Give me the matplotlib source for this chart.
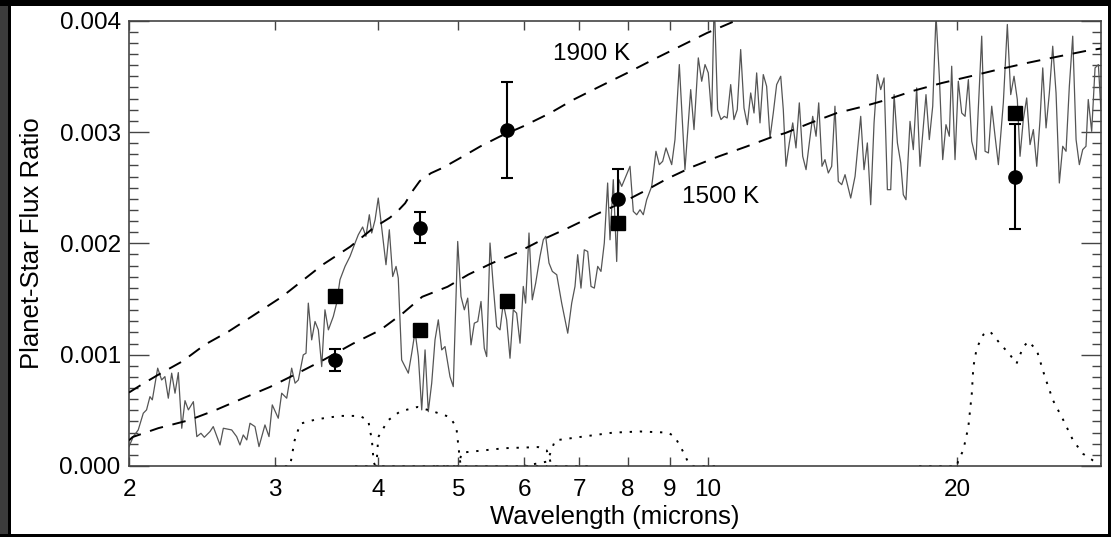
import numpy as np
import matplotlib.pyplot as plt
from matplotlib.patches import Rectangle
from matplotlib.ticker import FixedLocator, FixedFormatter, MultipleLocator, NullLocator

plt.rcParams['font.family'] = ['Liberation Sans', 'DejaVu Sans']

# --- model spectrum (planet/star flux ratio) ---
spec_wl = [2.000, 2.024, 2.052, 2.081, 2.100, 2.120, 2.134, 2.166, 2.190, 2.210,
           2.231, 2.252, 2.273, 2.294, 2.316, 2.337, 2.359, 2.392, 2.415, 2.443,
           2.466, 2.505, 2.528, 2.576, 2.600, 2.661, 2.698, 2.723, 2.748, 2.775,
           2.800, 2.839, 2.871, 2.919, 2.952, 2.979, 3.029, 3.058, 3.101, 3.144,
           3.174, 3.203, 3.247, 3.272, 3.293, 3.324, 3.355, 3.386, 3.418, 3.449,
           3.482, 3.530, 3.563, 3.596, 3.647, 3.698, 3.750, 3.784, 3.830, 3.865,
           3.902, 3.928, 3.965, 4.000, 4.050, 4.087, 4.125, 4.164, 4.203, 4.229,
           4.269, 4.309, 4.349, 4.390, 4.431, 4.472, 4.514, 4.556, 4.597, 4.641,
           4.684, 4.727, 4.772, 4.816, 4.883, 4.928, 4.989, 5.035, 5.082, 5.130,
           5.177, 5.225, 5.275, 5.323, 5.372, 5.408, 5.458, 5.508, 5.560, 5.612,
           5.663, 5.716, 5.770, 5.823, 5.877, 5.933, 5.987, 6.026, 6.083, 6.139,
           6.197, 6.272, 6.330, 6.372, 6.431, 6.491, 6.571, 6.662, 6.775, 6.850,
           6.913, 6.965, 7.029, 7.094, 7.162, 7.228, 7.295, 7.364, 7.431, 7.500,
           7.570, 7.620, 7.690, 7.763, 7.813, 7.872, 8.056, 8.130, 8.207, 8.283,
           8.359, 8.438, 8.557, 8.659, 8.740, 8.822, 8.904, 9.046, 9.129, 9.240,
           9.386, 9.537, 9.625, 9.741, 9.833, 9.925, 10.015, 10.110, 10.182, 10.278,
           10.375, 10.470, 10.555, 10.659, 10.756, 10.855, 10.959, 11.061, 11.164, 11.269,
           11.373, 11.457, 11.564, 11.670, 11.779, 11.890, 11.999, 12.112, 12.250, 12.338,
           12.430, 12.547, 12.666, 12.781, 12.900, 13.022, 13.144, 13.264, 13.389, 13.515,
           13.615, 13.740, 13.854, 13.983, 14.115, 14.244, 14.377, 14.514, 14.649, 14.882,
           15.063, 15.302, 15.443, 15.587, 15.733, 15.880, 16.027, 16.177, 16.328, 16.480,
           16.633, 16.791, 16.946, 17.103, 17.226, 17.355, 17.551, 17.712, 17.879, 18.045,
           18.348, 18.518, 18.694, 18.866, 19.041, 19.221, 19.396, 19.577, 19.707, 19.890,
           20.073, 20.264, 20.454, 20.642, 20.835, 21.086, 21.219, 21.423, 21.623, 21.826,
           22.028, 22.233, 22.438, 22.750, 23.005, 23.223, 23.437, 23.652, 23.832, 24.050,
           24.277, 24.504, 24.731, 24.966, 25.195, 25.386, 25.620, 25.856, 26.100, 26.342,
           26.584, 26.836, 27.085, 27.334, 27.593, 27.851, 28.105, 28.370, 28.629, 28.811,
           29.086, 29.360, 29.634, 29.840]
spec_flux = [0.000174, 0.000264, 0.000324, 0.000474, 0.000504, 0.000623, 0.000594, 0.000879, 0.000773, 0.000803,
             0.000609, 0.000834, 0.000654, 0.000839, 0.000339, 0.000587, 0.000504, 0.000578, 0.000264, 0.000294,
             0.000258, 0.000309, 0.000354, 0.000189, 0.000339, 0.000324, 0.000264, 0.000189, 0.000279, 0.000234,
             0.000384, 0.000354, 0.000174, 0.000369, 0.000264, 0.000549, 0.000429, 0.000654, 0.000609, 0.000879,
             0.000744, 0.000773, 0.000998, 0.001013, 0.001463, 0.001133, 0.001298, 0.001223, 0.000893, 0.001403,
             0.001223, 0.001343, 0.001463, 0.001673, 0.001793, 0.001883, 0.002003, 0.002077, 0.002147, 0.002063,
             0.002257, 0.002093, 0.002212, 0.002407, 0.002063, 0.001808, 0.002122, 0.001702, 0.001793, 0.001688,
             0.000953, 0.000893, 0.000834, 0.001013, 0.001208, 0.000983, 0.000504, 0.001043, 0.000488, 0.000744,
             0.001133, 0.001313, 0.001043, 0.001073, 0.000803, 0.000713, 0.002017, 0.001523, 0.001403, 0.001508,
             0.001088, 0.001283, 0.001298, 0.001478, 0.001058, 0.000983, 0.002003, 0.001613, 0.001253, 0.001223,
             0.001463, 0.001313, 0.000968, 0.001403, 0.001373, 0.001103, 0.001613, 0.001463, 0.002093, 0.001493,
             0.001643, 0.001883, 0.002032, 0.002063, 0.001823, 0.001748, 0.001718, 0.001463, 0.001193, 0.001463,
             0.001613, 0.001898, 0.001598, 0.001942, 0.001927, 0.001613, 0.001598, 0.001793, 0.001748, 0.002003,
             0.002542, 0.002032, 0.002572, 0.001837, 0.002572, 0.002512, 0.002692, 0.002287, 0.002257, 0.002302,
             0.002257, 0.002392, 0.002512, 0.002827, 0.002707, 0.002737, 0.002857, 0.002707, 0.002932, 0.003606,
             0.002662, 0.003381, 0.003022, 0.003666, 0.003456, 0.003606, 0.003531, 0.003141, 0.004200, 0.003201,
             0.003112, 0.003141, 0.003126, 0.003426, 0.003112, 0.003201, 0.003741, 0.003216, 0.003066, 0.003351,
             0.003171, 0.003531, 0.003082, 0.003516, 0.003411, 0.002947, 0.003171, 0.003426, 0.003501, 0.003201,
             0.002692, 0.002902, 0.003082, 0.002857, 0.003262, 0.002782, 0.002662, 0.002902, 0.003141, 0.002962,
             0.003262, 0.002692, 0.002752, 0.002632, 0.002692, 0.003232, 0.002557, 0.002527, 0.002617, 0.002407,
             0.002602, 0.003141, 0.002662, 0.002902, 0.002347, 0.003082, 0.003516, 0.003381, 0.003486, 0.002482,
             0.002482, 0.003336, 0.002902, 0.002722, 0.002437, 0.002392, 0.003096, 0.002842, 0.003396, 0.002692,
             0.003336, 0.002932, 0.003232, 0.004050, 0.003501, 0.002752, 0.003066, 0.002962, 0.003591, 0.002752,
             0.003456, 0.003171, 0.003141, 0.003471, 0.002917, 0.002752, 0.003201, 0.003861, 0.002827, 0.002812,
             0.003232, 0.002962, 0.002707, 0.003262, 0.003966, 0.003336, 0.003501, 0.003292, 0.002782, 0.003112,
             0.003306, 0.002887, 0.003022, 0.002692, 0.003112, 0.003576, 0.003037, 0.003351, 0.003771, 0.003351,
             0.002542, 0.002872, 0.002827, 0.003411, 0.003861, 0.002932, 0.002707, 0.002842, 0.002872, 0.003292,
             0.003006, 0.003576, 0.003606, 0.003201]

# --- blackbody curves ---
bb1900_wl = [2.00, 2.07, 2.17, 2.32, 2.47, 2.64, 2.81, 3.06, 3.17, 3.43, 3.70, 3.95,
             4.13, 4.21, 4.31, 4.40, 4.49, 4.63, 4.79, 5.06, 5.31, 5.61, 5.98, 6.45,
             6.88, 7.41, 7.99, 8.59, 9.26, 9.98, 10.73, 11.60]
bb1900 = [0.00066, 0.00073, 0.00082, 0.00094, 0.00109, 0.00121, 0.00134, 0.00152, 0.00161, 0.00181, 0.00197, 0.00214,
          0.00223, 0.00228, 0.00236, 0.00247, 0.00256, 0.00263, 0.00268, 0.00278, 0.00287, 0.00296, 0.00305, 0.00317,
          0.00329, 0.00341, 0.00353, 0.00365, 0.00377, 0.00389, 0.00399, 0.00410]
bb1500_wl = [2.00, 2.02, 2.17, 2.36, 2.54, 2.75, 2.96, 3.19, 3.43, 3.73, 4.02, 4.28,
             4.52, 4.85, 5.14, 5.48, 5.86, 6.30, 6.79, 7.33, 7.90, 8.44, 8.93, 9.60,
             10.30, 11.14, 12.0, 12.40, 13.29, 14.31, 15.42, 16.45, 17.71, 19.17,
             20.74, 22.39, 24.29, 26.17, 28.69, 29.85]
bb1500 = [0.00023, 0.00026, 0.00034, 0.00041, 0.00050, 0.00061, 0.00071, 0.00083, 0.00095, 0.00110, 0.00122, 0.00137,
          0.00152, 0.00161, 0.00172, 0.00182, 0.00191, 0.00203, 0.00214, 0.00226, 0.00237, 0.00248, 0.00258, 0.00269,
          0.00278, 0.00287, 0.00296, 0.00299, 0.00308, 0.00317, 0.00323, 0.00329, 0.00337, 0.00344,
          0.00350, 0.00356, 0.00362, 0.00367, 0.00373, 0.00375]

# --- filter response curves (scaled) ---
ch1_wl = [3.00, 3.13, 3.17, 3.22, 3.37, 3.60, 3.80, 3.89, 3.93, 3.95, 3.97, 5.00]
ch1 = [0, 0, 0.00023, 0.00038, 0.00042, 0.00045, 0.00045, 0.00041, 0.00023, 0.00003, 0, 0]
ch2_wl = [3.75, 3.98, 4.00, 4.11, 4.25, 4.46, 4.66, 4.88, 4.97, 5.00, 5.03, 6.40]
ch2 = [0, 0, 0.00026, 0.00041, 0.00049, 0.00053, 0.00049, 0.00044, 0.00035, 0.00017, 0, 0]
ch3_wl = [4.70, 5.00, 5.045, 5.685, 6.24, 6.39, 6.45, 6.48, 7.20]
ch3 = [0, 0, 0.00012, 0.00016, 0.00017, 0.00014, 0.00005, 0, 0]
ch4_wl = [6.00, 6.40, 6.54, 7.00, 7.69, 8.28, 8.96, 9.13, 9.32, 9.49, 9.60, 10.40]
ch4 = [0, 0.00004, 0.00023, 0.00026, 0.00030, 0.00031, 0.00030, 0.00026, 0.00014, 0.00002, 0, 0]
mips_wl = [18.0, 20.0, 20.07, 20.35, 20.64, 20.84, 20.93, 21.13, 21.52, 21.92, 22.54, 23.17,
           23.60, 24.05, 24.39, 24.97, 25.54, 26.12, 26.89, 27.62, 28.39, 29.19, 29.85]
mips = [0, 0, 0.00005, 0.00014, 0.00035, 0.00065, 0.00089, 0.00106, 0.00118, 0.00121, 0.00110, 0.00100,
        0.00092, 0.00107, 0.00112, 0.00104, 0.00080, 0.00059, 0.00041, 0.00023, 0.00011, 0.00005, 0.00002]

# --- observations ---
circ_wl = [3.55, 4.49, 5.73, 7.80, 23.5]
circ_val = [0.00095, 0.00214, 0.00302, 0.00240, 0.00260]
circ_err = [0.00010, 0.00014, 0.00043, 0.00027, 0.00047]
sq_wl = [3.55, 4.49, 5.73, 7.80, 23.5]
sq_val = [0.00153, 0.00122, 0.00148, 0.00218, 0.00317]

xticks = [2, 3, 4, 5, 6, 7, 8, 9, 10, 20]
xticklabels = ['2', '3', '4', '5', '6', '7', '8', '9', '10', '20']

fig = plt.figure(figsize=(11.11, 5.37), dpi=100)
ax = fig.add_axes([129 / 1111, 71 / 537, 972 / 1111, 445.3 / 537])

ax.plot(spec_wl, spec_flux, color='#555555', lw=0.9, zorder=2)
ax.plot(bb1900_wl, bb1900, color='black', lw=1.4, ls=(0, (7, 5)), zorder=3)
ax.plot(bb1500_wl, bb1500, color='black', lw=1.4, ls=(0, (7, 5)), zorder=3)
for fw, fr in [(ch1_wl, ch1), (ch2_wl, ch2), (ch3_wl, ch3), (ch4_wl, ch4), (mips_wl, mips)]:
    ax.plot(fw, fr, color='black', lw=1.4, ls=(0, (1.2, 4)), zorder=2)

ax.errorbar(circ_wl, circ_val, yerr=circ_err, fmt='o', color='black', ms=9.5,
            capsize=4, elinewidth=1.5, capthick=1.5, zorder=5)
ax.plot(sq_wl, sq_val, 's', color='black', ms=10, zorder=5)

ax.text(6.50, 0.00370, '1900 K', fontsize=17.5, va='center', ha='left')
ax.text(9.31, 0.00242, '1500 K', fontsize=17.5, va='center', ha='left')

ax.set_xscale('log')
ax.set_xlim(2, 29.85)
ax.set_ylim(0, 0.004)
ax.xaxis.set_major_locator(FixedLocator(xticks))
ax.xaxis.set_major_formatter(FixedFormatter(xticklabels))
ax.xaxis.set_minor_locator(NullLocator())
ax.yaxis.set_major_locator(MultipleLocator(0.001))
ax.yaxis.set_minor_locator(MultipleLocator(0.0001))
ax.yaxis.set_major_formatter(plt.FuncFormatter(lambda v, p: f'{v:.3f}'))

ax.tick_params(axis='x', which='major', direction='in', length=6.5, width=1,
               top=True, bottom=True, labelsize=17.5, pad=9, color='#444444')
ax.tick_params(axis='y', which='major', direction='in', length=14.5, width=1,
               left=True, right=True, labelsize=17.5, pad=6, color='#444444')
ax.tick_params(axis='y', which='minor', direction='in', length=6.5, width=1,
               left=True, right=True, color='#444444')
for s in ax.spines.values():
    s.set_color('#444444')
    s.set_linewidth(1.2)

ax.set_xlabel('Wavelength (microns)', fontsize=18.5, va='center')
ax.xaxis.set_label_coords(0.5, -0.115)
ax.set_ylabel('Planet-Star Flux Ratio', fontsize=18.5, va='center')
ax.yaxis.set_label_coords(-0.1003, 0.5)

# dark frame around the figure (edges of the screenshot)
W, H = 1111, 537
frame = [(0, 0, 8, H, '#3c3c3c'), (8, 0, 3, H, 'black'),
         (0, H - 6, W, 6, 'black'), (0, 0, W, 3, 'black'), (W - 3, 0, 3, H, 'black')]
for fx, fy, fw_, fh, fc in frame:
    fig.patches.append(Rectangle((fx / W, fy / H), fw_ / W, fh / H, transform=fig.transFigure,
                                 facecolor=fc, edgecolor='none', zorder=11))

fig.savefig('out.png', dpi=100)
